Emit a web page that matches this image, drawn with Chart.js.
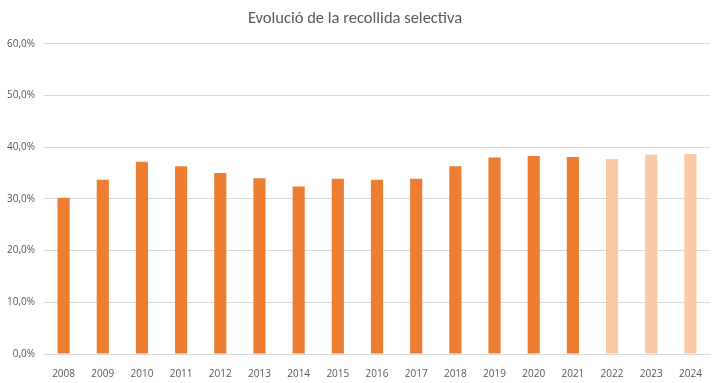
<!DOCTYPE html>
<html>
<head>
<meta charset="utf-8">
<script src="https://cdn.jsdelivr.net/npm/chart.js@4/dist/chart.umd.min.js"></script>
<style>
html,body{margin:0;padding:0;background:#fff;}
#wrap{width:721px;height:383px;position:relative;}
</style>
</head>
<body>
<div id="wrap"><canvas id="c" width="721" height="383"></canvas></div>
<script>
const titleText = "Evolució de la recollida selectiva";
const years = ["2008","2009","2010","2011","2012","2013","2014","2015","2016","2017","2018","2019","2020","2021","2022","2023","2024"];
const rates = [30.2,33.7,37.2,36.3,35.0,34.0,32.4,33.9,33.7,33.9,36.3,38.0,38.3,38.1,37.7,38.6,38.7];
const projected = [false,false,false,false,false,false,false,false,false,false,false,false,false,false,true,true,true];
const yTicks = [0,10,20,30,40,50,60];

function makePattern(){
  const p = document.createElement('canvas');
  p.width = 4; p.height = 4;
  const g = p.getContext('2d');
  g.fillStyle = '#F8CBAD';
  g.fillRect(0,0,4,4);
  g.fillStyle = '#F4BC96';
  g.fillRect(0,0,1,1);
  g.fillRect(2,2,1,1);
  return document.getElementById('c').getContext('2d').createPattern(p,'repeat');
}
const pat = makePattern();
const colors = projected.map(p => p ? pat : '#ED7D31');

new Chart(document.getElementById('c'), {
  type: 'bar',
  data: {
    labels: years,
    datasets: [{
      data: rates,
      backgroundColor: colors,
      borderWidth: 0,
      barPercentage: 0.31,
      categoryPercentage: 1.0
    }]
  },
  options: {
    responsive: false,
    animation: false,
    layout: { padding: { left: 0, right: 11, top: 0, bottom: 0 } },
    plugins: {
      legend: { display: false },
      tooltip: { enabled: false },
      title: {
        display: true,
        text: titleText,
        color: '#595959',
        font: { family: 'Calibri, Carlito, "Open Sans", sans-serif', size: 16.5, weight: 'normal' },
        padding: { top: 9, bottom: 15 }
      }
    },
    scales: {
      x: {
        grid: { display: false },
        border: { display: true, color: '#D9D9D9' },
        ticks: { color: '#595959', font: { family: '"Open Sans", sans-serif', size: 10 }, padding: 6, maxRotation: 0 },
        afterFit: s => { s.height = 29; }
      },
      y: {
        min: 0, max: 60,
        afterBuildTicks: s => { s.ticks = yTicks.map(v => ({ value: v })); },
        grid: { color: '#D9D9D9', drawTicks: false },
        border: { display: false },
        ticks: {
          color: '#595959',
          font: { family: '"Open Sans", sans-serif', size: 10 },
          padding: 9,
          callback: v => v.toFixed(1).replace('.', ',') + '%'
        },
        afterFit: s => { s.width = 44; }
      }
    }
  }
});
</script>
</body>
</html>
